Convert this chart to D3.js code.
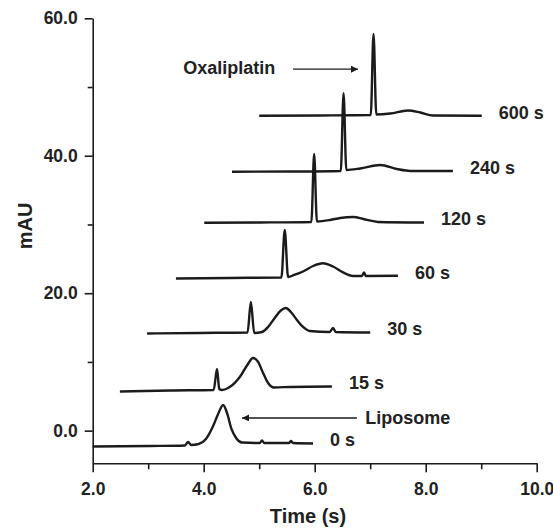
<!DOCTYPE html>
<html>
<head>
<meta charset="utf-8">
<script src="https://cdn.jsdelivr.net/npm/d3@7"></script>
<style>
  html, body { margin: 0; padding: 0; background: #fff; }
  svg text { font-family: "Liberation Sans", Arial, sans-serif; font-weight: bold; fill: #222; }
</style>
</head>
<body>
<svg id="chart" width="553" height="528"></svg>
<script>
// ---- data (time in s, absorbance in mAU) ----
const seriesLabels = ["0 s", "15 s", "30 s", "60 s", "120 s", "240 s", "600 s"];
const xTicks = [2, 4, 6, 8, 10];
const xMinorTicks = [3, 5, 7, 9];
const yTicks = [0, 20, 40, 60];
const yMinorTicks = [10, 30, 50];

const trace0s = [[2.00,-2.30],[3.03,-2.23],[3.66,-2.15],[3.72,-1.64],[3.77,-2.08],[3.91,-1.94],[4.04,-1.21],[4.17,0.68],[4.26,2.43],[4.35,3.74],[4.42,2.58],[4.50,0.25],[4.59,-1.13],[4.69,-1.72],[5.01,-1.80],[5.05,-1.43],[5.09,-1.80],[5.54,-1.80],[5.57,-1.51],[5.61,-1.80],[5.97,-1.86]];
const trace15s = [[2.49,5.70],[3.39,5.85],[4.18,5.92],[4.24,8.98],[4.28,6.07],[4.33,5.92],[4.44,6.21],[4.65,7.81],[4.78,9.49],[4.89,10.58],[4.98,10.0],[5.07,8.40],[5.16,6.94],[5.27,6.29],[5.56,6.36],[6.31,6.43]];
const trace30s = [[2.98,14.14],[3.93,14.22],[4.79,14.29],[4.85,18.73],[4.91,14.22],[5.05,14.36],[5.16,15.09],[5.28,16.40],[5.39,17.49],[5.48,17.85],[5.57,17.27],[5.68,16.11],[5.79,15.09],[5.91,14.51],[6.27,14.36],[6.33,14.94],[6.38,14.36],[7.00,14.29]];
const trace60s = [[3.50,22.14],[4.47,22.22],[5.40,22.29],[5.46,29.20],[5.52,22.36],[5.63,22.65],[5.79,23.16],[5.97,23.96],[6.15,24.36],[6.33,23.89],[6.51,23.02],[6.69,22.51],[6.85,22.51],[6.89,23.02],[6.92,22.51],[7.50,22.55]];
const trace120s = [[4.01,30.26],[5.02,30.29],[5.94,30.37],[5.99,40.26],[6.04,30.44],[6.28,30.66],[6.46,30.95],[6.69,31.09],[6.91,30.73],[7.14,30.37],[7.97,30.29]];
const trace240s = [[4.51,37.68],[5.55,37.71],[6.47,37.79],[6.52,49.09],[6.57,37.93],[6.82,38.15],[7.18,38.66],[7.48,38.08],[7.72,37.79],[8.49,37.79]];
const trace600s = [[5.00,45.82],[6.10,45.86],[7.01,45.93],[7.06,57.72],[7.11,46.01],[7.36,46.15],[7.68,46.59],[7.90,46.30],[8.13,45.86],[9.01,45.83]];
const traces = [trace0s, trace15s, trace30s, trace60s, trace120s, trace240s, trace600s];

// ---- drawing ----
const svg = d3.select("#chart");
const x = d3.scaleLinear().domain([2, 10]).range([92.7, 536.7]);
const y = d3.scaleLinear().domain([-4.75, 60]).range([463.3, 18.3]);
const ink = "#1b1b1b";

// axes
const gx = svg.append("g").attr("transform", `translate(0,${y(-4.75)})`);
gx.call(d3.axisBottom(x).tickValues(xTicks).tickSize(9).tickSizeOuter(0).tickPadding(10.5).tickFormat(d3.format(".1f")));
gx.append("g").call(d3.axisBottom(x).tickValues(xMinorTicks).tickSize(6).tickSizeOuter(0).tickFormat(""))
  .select(".domain").remove();

const gy = svg.append("g").attr("transform", `translate(${x(2)},0)`);
gy.call(d3.axisLeft(y).tickValues(yTicks).tickSize(8).tickSizeOuter(0).tickPadding(7).tickFormat(d3.format(".1f")));
gy.append("g").call(d3.axisLeft(y).tickValues(yMinorTicks).tickSize(5).tickSizeOuter(0).tickFormat(""))
  .select(".domain").remove();

svg.selectAll(".domain, .tick line").attr("stroke", ink).attr("stroke-width", 1.6);
svg.selectAll(".tick text").attr("font-size", 17.5).attr("fill", "#222")
  .style("font-family", '"Liberation Sans", Arial, sans-serif').style("font-weight", "bold");

// axis titles
svg.append("text").attr("x", 308).attr("y", 523).attr("text-anchor", "middle")
  .attr("font-size", 20).text("Time (s)");
svg.append("text").attr("transform", "translate(32,226) rotate(-90)").attr("text-anchor", "middle")
  .attr("font-size", 20).text("mAU");

// traces
const line = d3.line().x(d => x(d[0])).y(d => y(d[1])).curve(d3.curveMonotoneX);
svg.append("g").selectAll("path").data(traces).join("path")
  .attr("d", line).attr("fill", "none").attr("stroke", ink)
  .attr("stroke-width", 2.4).attr("stroke-linejoin", "round");

// series labels
svg.append("g").selectAll("text").data(traces).join("text")
  .attr("x", d => x(d[d.length - 1][0]) + 17)
  .attr("y", d => y(d[d.length - 1][1]) + 3)
  .attr("font-size", 18)
  .text((d, i) => seriesLabels[i]);

// annotations
const defs = svg.append("defs");
defs.append("marker").attr("id", "arrow").attr("viewBox", "0 0 10 10")
  .attr("refX", 10).attr("refY", 5).attr("markerWidth", 10).attr("markerHeight", 7)
  .attr("markerUnits", "userSpaceOnUse").attr("orient", "auto")
  .append("path").attr("d", "M0,0 L10,5 L0,10 Z").attr("fill", ink);

svg.append("text").attr("x", x(3.63)).attr("y", y(51.9)).attr("font-size", 18).text("Oxaliplatin");
svg.append("line").attr("x1", x(5.61)).attr("x2", x(6.78)).attr("y1", y(52.6)).attr("y2", y(52.6))
  .attr("stroke", ink).attr("stroke-width", 1.4).attr("marker-end", "url(#arrow)");

svg.append("text").attr("x", x(6.91)).attr("y", y(0.97)).attr("font-size", 18).text("Liposome");
svg.append("line").attr("x1", x(6.76)).attr("x2", x(4.69)).attr("y1", y(1.85)).attr("y2", y(1.85))
  .attr("stroke", ink).attr("stroke-width", 1.4).attr("marker-end", "url(#arrow)");
</script>
</body>
</html>
